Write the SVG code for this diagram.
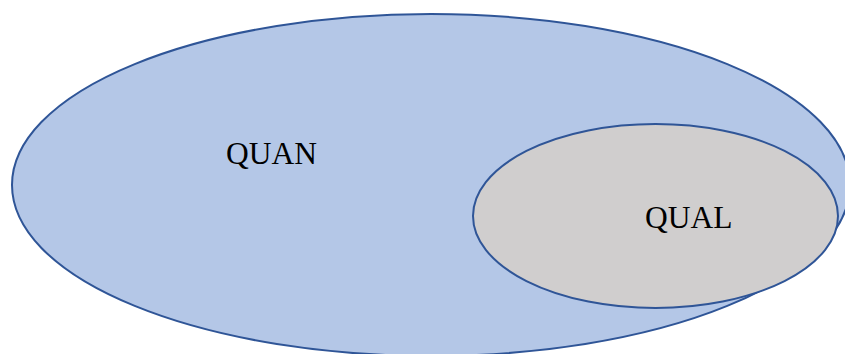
<svg xmlns="http://www.w3.org/2000/svg" width="845" height="354" viewBox="0 0 845 354">
<style>
.e{stroke:#2F5597;stroke-width:2}
.t{font-family:"Liberation Serif",serif;font-size:31.5px;fill:#000}
</style>
<rect width="845" height="354" fill="#fff"/>
<g id="quan">
<ellipse class="e" cx="431" cy="185" rx="419" ry="171" fill="#B4C7E7"/>
<text class="t" x="226" y="164">QUAN</text>
</g>
<g id="qual">
<ellipse class="e" cx="655.5" cy="216" rx="182.5" ry="92" fill="#D0CECE"/>
<text class="t" x="645" y="228">QUAL</text>
</g>
<g id="connectors"/>
</svg>
